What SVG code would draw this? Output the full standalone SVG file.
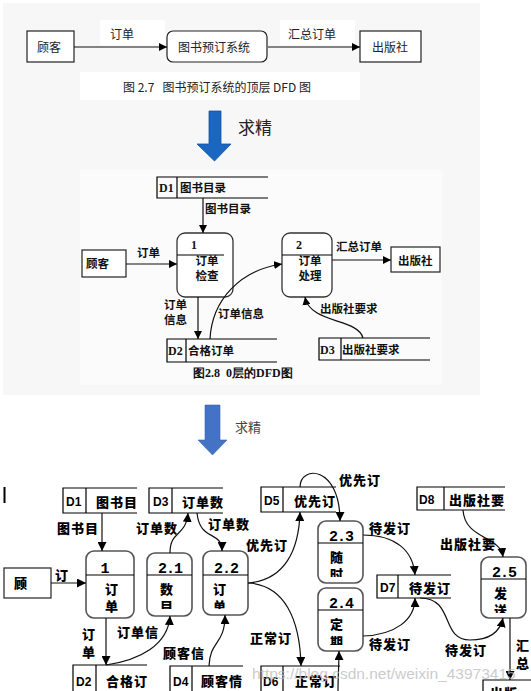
<svg xmlns="http://www.w3.org/2000/svg" width="531" height="691" viewBox="0 0 531 691">
<defs>
<marker id="ah" viewBox="0 0 10 10" refX="10" refY="5" markerWidth="8" markerHeight="8" markerUnits="userSpaceOnUse" orient="auto"><path d="M0,0 L10,5 L0,10 Z" fill="#000"/></marker>
<marker id="ah2" viewBox="0 0 10 10" refX="10" refY="5" markerWidth="9" markerHeight="9" markerUnits="userSpaceOnUse" orient="auto"><path d="M0,0 L10,5 L0,10 Z" fill="#000"/></marker>
<clipPath id="c21"><rect x="140" y="595" width="60" height="14"/></clipPath>
<clipPath id="c22"><rect x="200" y="595" width="60" height="14"/></clipPath>
<clipPath id="c23"><rect x="315" y="563" width="60" height="14"/></clipPath>
<clipPath id="c24"><rect x="315" y="630" width="60" height="15"/></clipPath>
<clipPath id="c25"><rect x="478" y="599" width="60" height="14"/></clipPath>
</defs>
<style>
.t1{font-family:"Noto Sans CJK SC","Liberation Sans",sans-serif;font-size:12px;fill:#222}
.t2{font-family:"Noto Sans CJK SC","Liberation Sans",sans-serif;font-size:11.5px;font-weight:700;fill:#111}
.s2{font-family:"Liberation Serif",serif;font-size:12px;font-weight:700;fill:#111}
.t3{font-family:"Noto Sans CJK SC","Liberation Sans",sans-serif;font-size:13px;font-weight:900;fill:#000;letter-spacing:1px}
.d3{font-family:"Liberation Sans",sans-serif;font-size:12px;font-weight:700;fill:#000}
.n3{font-family:"Liberation Mono",monospace;font-size:15px;font-weight:700;fill:#000}
.pre{white-space:pre}
.box{fill:#fff;stroke:#222;stroke-width:1.2}
.proc{fill:#fff;stroke:#333;stroke-width:1.3}
.proc3{fill:#fff;stroke:#555;stroke-width:1.6}
.ln{stroke:#000;stroke-width:1.2;fill:none}
.cn{stroke:#111;stroke-width:1.2;fill:none}
</style>
<rect x="0" y="0" width="531" height="691" fill="#fff"/>
<rect x="3" y="3" width="477" height="392" fill="#f7f7f7"/>
<rect x="100" y="20" width="65" height="25" fill="#fff"/>
<rect x="280" y="20" width="75" height="25" fill="#fff"/>
<rect x="80" y="72" width="280" height="28" fill="#fff"/>
<rect x="80" y="170" width="362" height="215" fill="#fbfbfb"/>

<!-- top diagram -->
<g id="top-customer"><rect x="27" y="31" width="47" height="31" class="box"/><text x="37" y="52" class="t1">顾客</text></g>
<g id="top-system"><rect x="167" y="31" width="100" height="31" rx="6" class="box"/><text x="178" y="52" class="t1">图书预订系统</text></g>
<g id="top-publisher"><rect x="360" y="31" width="61" height="31" class="box"/><text x="372" y="52" class="t1">出版社</text></g>
<text x="123" y="92" class="t1 pre" fill="#333" xml:space="preserve">图 2.7   图书预订系统的顶层 DFD 图</text>

<polygon points="209,111 221,111 221,144 231,144 214.5,161 197,144 209,144" fill="#1a66c0" stroke="#14569f" stroke-width="0.8"/>
<text x="238" y="134" class="t1" style="font-size:17px">求精</text>

<!-- middle diagram -->
<g id="m-d1"><path d="M268,177 H157 V198 H268 M177,177 V198" class="ln"/><text x="159" y="192" class="s2">D1</text><text x="180" y="192" class="t2">图书目录</text></g>
<g id="m-p1"><rect x="177" y="233" width="56" height="64" rx="8" class="proc"/><path d="M177,255 H224" class="ln"/><text x="191" y="249" class="s2">1</text><text x="207" y="265" text-anchor="middle" class="t2">订单</text><text x="207" y="280" text-anchor="middle" class="t2">检查</text></g>
<g id="m-customer"><rect x="82" y="250" width="44" height="27" class="box"/><text x="86" y="268" class="t2">顾客</text></g>
<g id="m-p2"><rect x="282" y="233" width="50" height="64" rx="8" class="proc"/><path d="M282,255 H332" class="ln"/><text x="296" y="249" class="s2">2</text><text x="310" y="265" text-anchor="middle" class="t2">订单</text><text x="310" y="280" text-anchor="middle" class="t2">处理</text></g>
<g id="m-publisher"><rect x="391" y="247" width="49" height="25" class="box"/><text x="398" y="265" class="t2">出版社</text></g>
<g id="m-d2"><path d="M277,339 H167 V362 H277 M186,339 V362" class="ln"/><text x="168" y="355" class="s2">D2</text><text x="188" y="355" class="t2">合格订单</text></g>
<g id="m-d3"><path d="M430,338 H319 V360 H430 M341,338 V360" class="ln"/><text x="320" y="354" class="s2">D3</text><text x="342" y="354" class="t2">出版社要求</text></g>
<text x="193" y="377" class="s2 pre" xml:space="preserve">图2.8  0层的DFD图</text>

<polygon points="205,405 220,405 220,440 227,440 212.5,455 198,440 205,440" fill="#4472c4" stroke="#3b64ad" stroke-width="0.6"/>
<text x="235" y="432" class="t1" style="font-size:13px;fill:#444">求精</text>
<rect x="3.5" y="487" width="2" height="16" fill="#000"/>

<!-- bottom diagram -->
<g id="b-d1"><path d="M137,488 H63 V513 H137 M86,488 V513" class="ln"/><text x="66" y="506" class="d3">D1</text><text x="96" y="507" class="t3">图书目</text></g>
<g id="b-d3"><path d="M223,488 H149 V513 H223 M172,488 V513" class="ln"/><text x="153" y="506" class="d3">D3</text><text x="182" y="507" class="t3">订单数</text></g>
<g id="b-d5"><path d="M336,487 H261 V512 H336 M283,487 V512" class="ln"/><text x="264" y="505" class="d3">D5</text><text x="294" y="506" class="t3">优先订</text></g>
<g id="b-d8"><path d="M505,487 H417 V510 H505 M444,487 V510" class="ln"/><text x="419" y="504" class="d3">D8</text><text x="449" y="505" class="t3">出版社要</text></g>
<g id="b-customer"><rect x="4" y="568" width="47" height="30" class="box"/><text x="14" y="588" class="t3">顾</text></g>
<g id="b-p1"><rect x="86" y="551" width="48" height="67" rx="8" class="proc3"/><path d="M86,575 H134" class="ln"/><text x="105" y="573" text-anchor="middle" class="n3">1</text><text x="112" y="594" text-anchor="middle" class="t3">订</text><text x="112" y="611" text-anchor="middle" class="t3">单</text></g>
<g id="b-p21"><rect x="147" y="553" width="45" height="63" rx="8" class="proc3"/><path d="M147,575 H192" class="ln"/><text x="158" y="573" class="n3" style="letter-spacing:-1px">2.1</text><text x="160" y="594" class="t3">数</text><text x="160" y="611" class="t3" clip-path="url(#c21)">目</text></g>
<g id="b-p22"><rect x="203" y="551" width="45" height="64" rx="8" class="proc3"/><path d="M203,575 H248" class="ln"/><text x="214" y="573" class="n3" style="letter-spacing:-1px">2.2</text><text x="213" y="594" class="t3">订</text><text x="213" y="611" class="t3" clip-path="url(#c22)">单</text></g>
<g id="b-p23"><rect x="318" y="521" width="45" height="62" rx="8" class="proc3"/><path d="M318,543 H363" class="ln"/><text x="329" y="541" class="n3" style="letter-spacing:-1px">2.3</text><text x="330" y="562" class="t3">随</text><text x="330" y="579" class="t3" clip-path="url(#c23)">时</text></g>
<g id="b-p24"><rect x="318" y="588" width="45" height="63" rx="8" class="proc3"/><path d="M318,610 H363" class="ln"/><text x="329" y="608" class="n3" style="letter-spacing:-1px">2.4</text><text x="330" y="629" class="t3">定</text><text x="330" y="647" class="t3" clip-path="url(#c24)">期</text></g>
<g id="b-d7"><path d="M451,575 H377 V598 H451 M398,575 V598" class="ln"/><text x="380" y="592" class="d3">D7</text><text x="409" y="593" class="t3">待发订</text></g>
<g id="b-p25"><rect x="481" y="557" width="45" height="61" rx="8" class="proc3"/><path d="M481,579 H526" class="ln"/><text x="492" y="577" class="n3" style="letter-spacing:-1px">2.5</text><text x="494" y="598" class="t3">发</text><text x="494" y="615" class="t3" clip-path="url(#c25)">送</text></g>
<g id="b-d2"><path d="M147,665 H73 V692 M96,665 V692" class="ln"/><text x="76" y="686" class="d3">D2</text><text x="106" y="686" class="t3">合格订</text></g>
<g id="b-d4"><path d="M243,666 H170 V692 M192,666 V692" class="ln"/><text x="173" y="686" class="d3">D4</text><text x="201" y="686" class="t3">顾客情</text></g>
<g id="b-d6"><path d="M340,666 H261 V692 M283,666 V692" class="ln"/><text x="263" y="686" class="d3">D6</text><text x="295" y="686" class="t3">正常订</text></g>
<g id="b-publisher"><path d="M531,680 H483 V692" class="ln"/><text x="490" y="698" class="t3">出版</text></g>

<!-- connectors -->
<g id="connectors">
<path d="M74,47 H167" class="cn" marker-end="url(#ah)"/>
<path d="M268,47 H360" class="cn" marker-end="url(#ah)"/>
<path d="M203,198 V233" class="cn" marker-end="url(#ah)"/>
<path d="M126,264 H177" class="cn" marker-end="url(#ah)"/>
<path d="M332,260 H391" class="cn" marker-end="url(#ah)"/>
<path d="M198,297 V339" class="cn" marker-end="url(#ah)"/>
<path d="M210,339 C212,300 240,270 282,264" class="cn" marker-end="url(#ah)"/>
<path d="M363,338 C358,318 310,324 305,297" class="cn" marker-end="url(#ah)"/>

<path d="M102,513 V551" class="cn" marker-end="url(#ah2)"/>
<path d="M51,583 H86" class="cn" marker-end="url(#ah2)"/>
<path d="M170,553 C170,530 186,537 188,513" class="cn" marker-end="url(#ah2)"/>
<path d="M197,513 C200,542 222,530 222,551" class="cn" marker-end="url(#ah2)"/>
<path d="M106,618 V665" class="cn" marker-end="url(#ah2)"/>
<path d="M106,665 C140,660 168,645 170,616" class="cn" marker-end="url(#ah2)"/>
<path d="M209,666 C210,640 225,645 225,615" class="cn" marker-end="url(#ah2)"/>
<path d="M248,583 C285,585 300,620 301,666" class="cn" marker-end="url(#ah2)"/>
<path d="M248,583 C285,580 299,550 300,512" class="cn" marker-end="url(#ah2)"/>
<path d="M300,487 C300,465 340,465 340,521" class="cn" marker-end="url(#ah2)"/>
<path d="M363,535 C395,535 413,550 415,575" class="cn" marker-end="url(#ah2)"/>
<path d="M363,636 C395,635 415,620 415,598" class="cn" marker-end="url(#ah2)"/>
<path d="M338,692 C338,675 339,665 339,651" class="cn" marker-end="url(#ah2)"/>
<path d="M420,598 C455,598 440,640 470,640 C490,640 500,632 503,618" class="cn" marker-end="url(#ah2)"/>
<path d="M463,510 C465,540 500,535 503,557" class="cn" marker-end="url(#ah2)"/>
<path d="M510,618 V680" class="cn" marker-end="url(#ah2)"/>
</g>

<!-- labels -->
<g id="labels">
<text x="110" y="39" class="t1">订单</text>
<text x="288" y="39" class="t1">汇总订单</text>
<text x="205" y="213" class="t2">图书目录</text>
<text x="137" y="257" class="t2">订单</text>
<text x="336" y="251" class="t2">汇总订单</text>
<text x="164" y="309" class="t2">订单</text>
<text x="164" y="324" class="t2">信息</text>
<text x="218" y="318" class="t2">订单信息</text>
<text x="320" y="313" class="t2">出版社要求</text>

<text x="57" y="533" class="t3">图书目</text>
<text x="55" y="580" class="t3">订</text>
<text x="136" y="533" class="t3">订单数</text>
<text x="208" y="529" class="t3">订单数</text>
<text x="82" y="639" class="t3">订</text>
<text x="82" y="657" class="t3">单</text>
<text x="117" y="637" class="t3">订单信</text>
<text x="163" y="658" class="t3">顾客信</text>
<text x="250" y="643" class="t3">正常订</text>
<text x="246" y="550" class="t3">优先订</text>
<text x="339" y="485" class="t3">优先订</text>
<text x="369" y="533" class="t3">待发订</text>
<text x="369" y="649" class="t3">待发订</text>
<text x="445" y="655" class="t3">待发订</text>
<text x="440" y="549" class="t3">出版社要</text>
<text x="516" y="650" class="t3">汇</text>
<text x="516" y="668" class="t3">总</text>
</g>
<text x="252" y="679" style="font-family:'Liberation Sans',sans-serif;font-size:15.5px;fill:#bbb;opacity:0.75">https://blog.csdn.net/weixin_43973415</text>
</svg>
